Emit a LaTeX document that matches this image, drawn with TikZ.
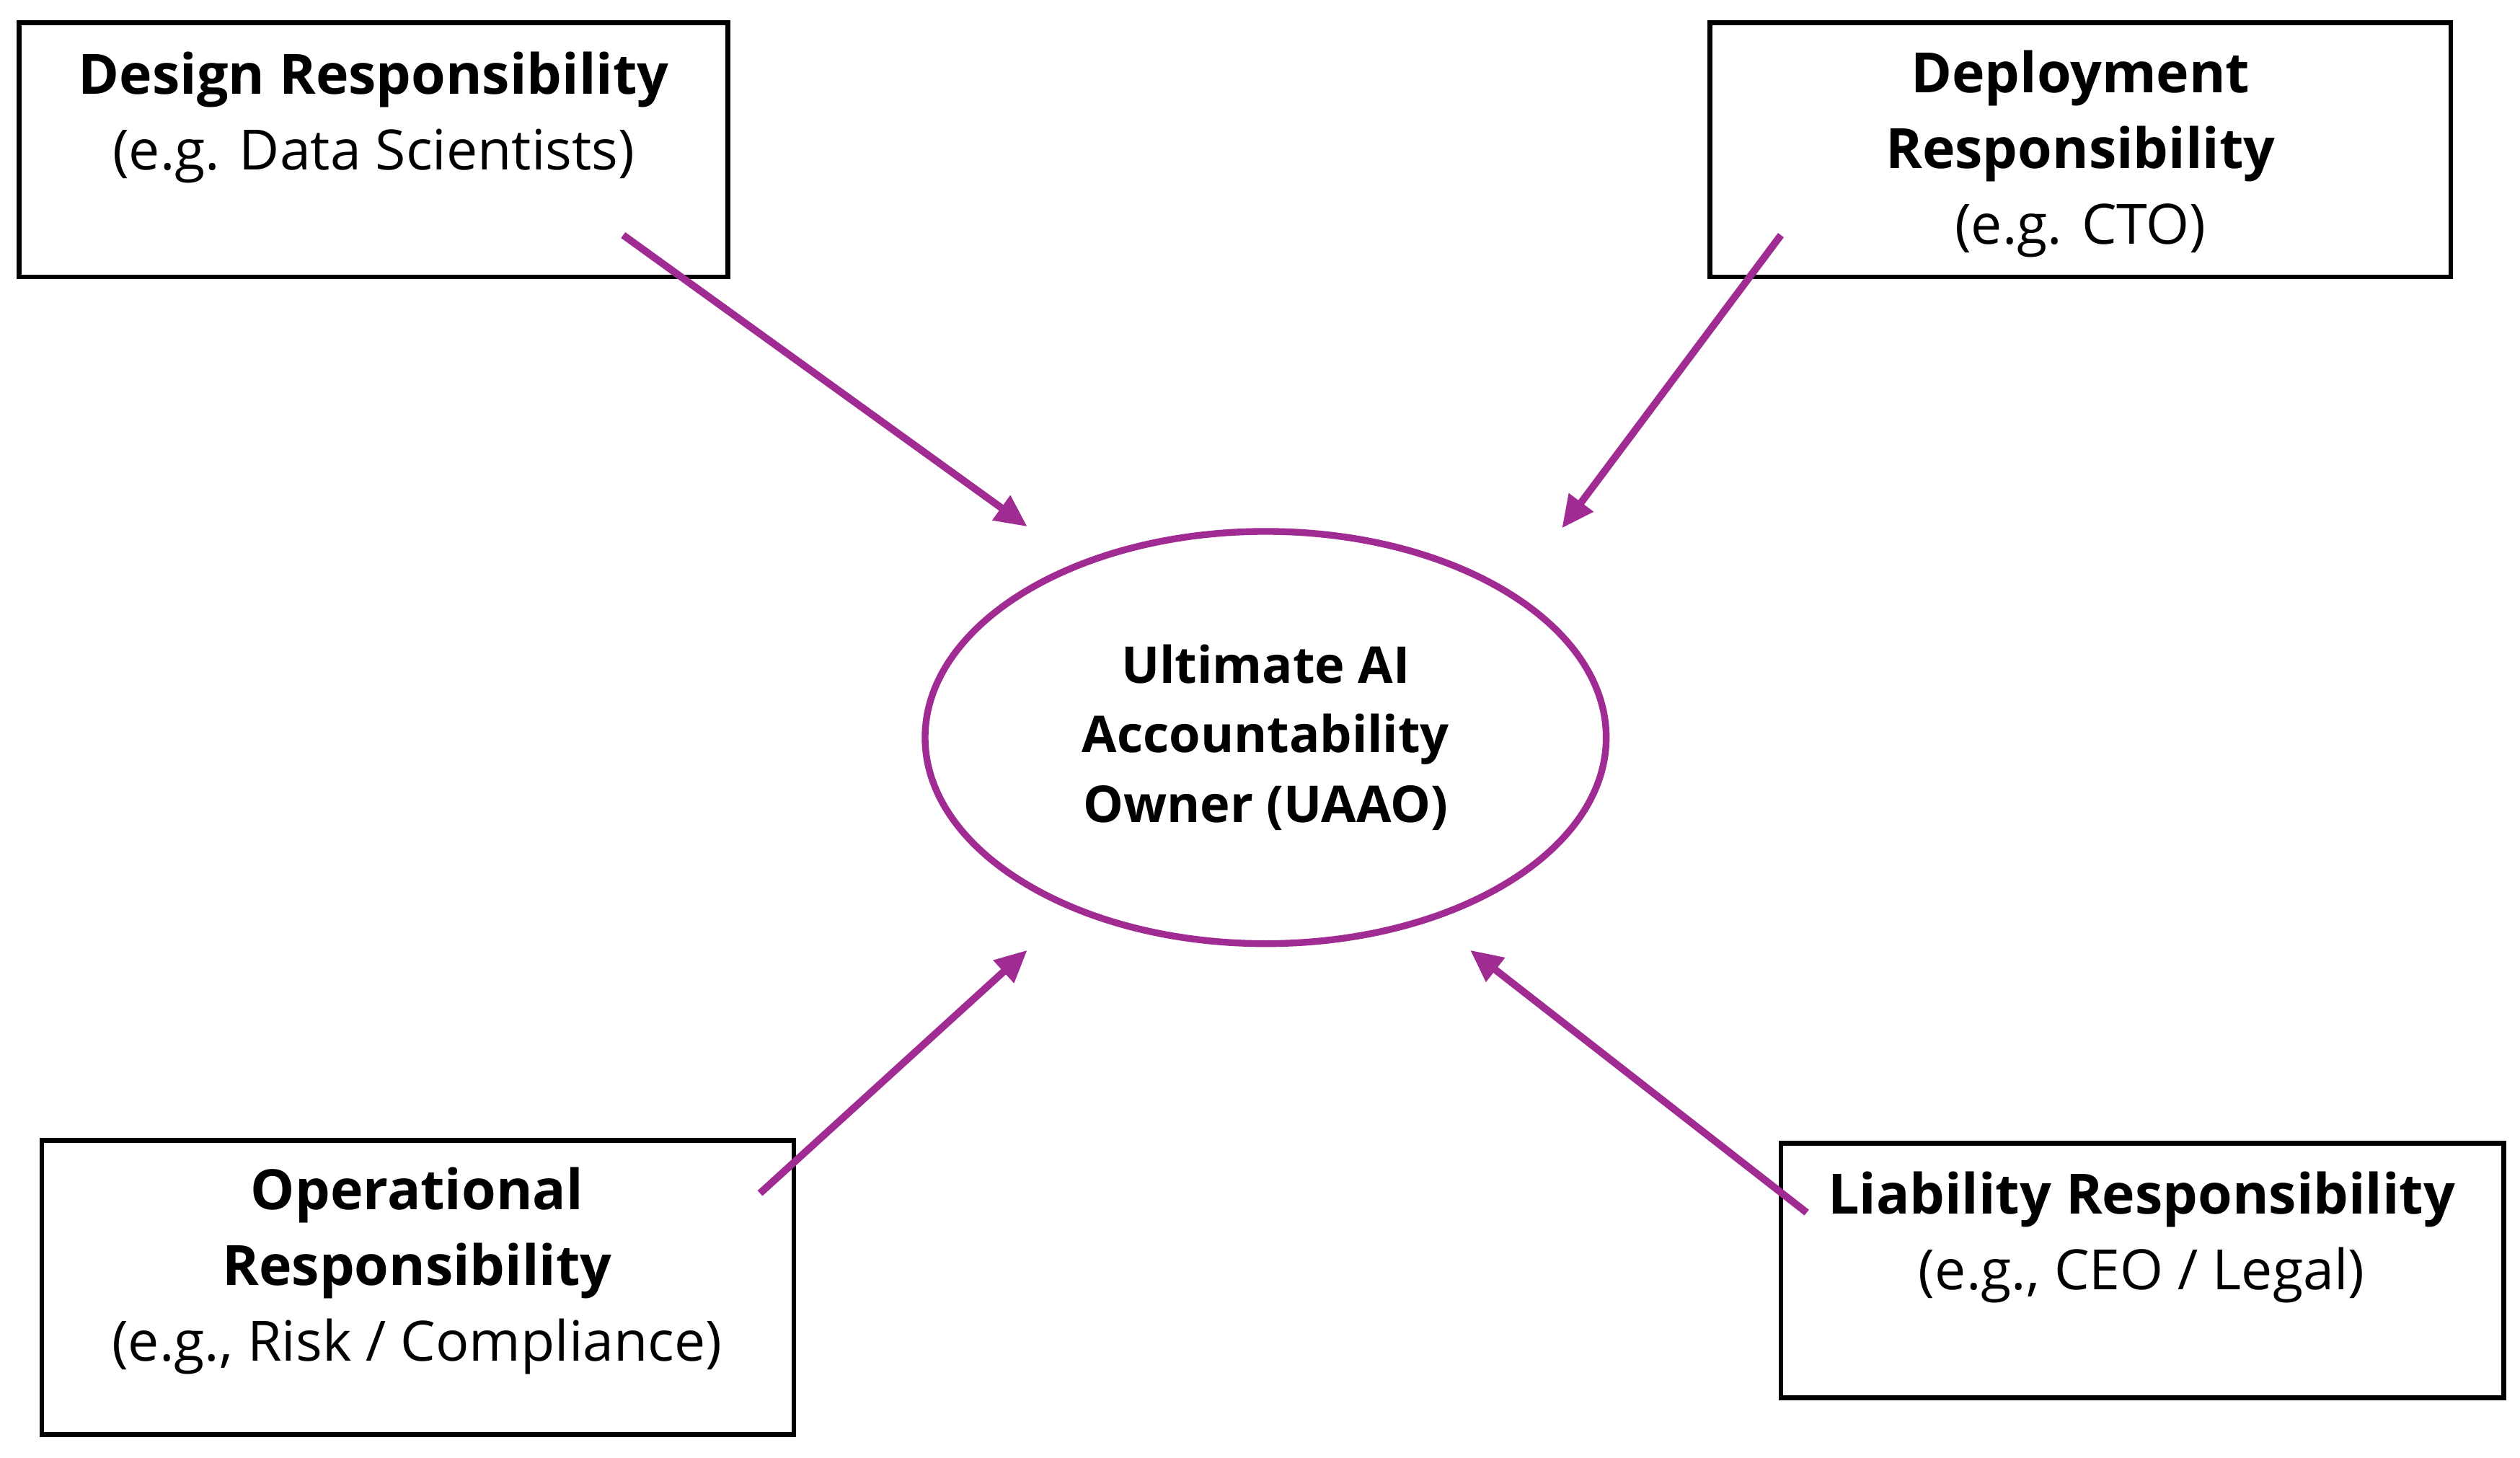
\documentclass[tikz,border=0pt]{standalone}
\usepackage{fontspec}
\setmainfont{Open Sans}
\usetikzlibrary{arrows.meta,shapes.geometric}
\definecolor{uaaopurple}{HTML}{A02B93}
\begin{document}
\begin{tikzpicture}[x=1pt,y=-1pt,
  rolebox/.style={draw=black, line width=3pt, fill=white, inner sep=0pt},
  rolelbl/.style={align=center, inner sep=0pt, font=\fontsize{34.5}{47}\selectfont},
  hub/.style={ellipse, draw=uaaopurple, line width=4.2pt, inner sep=0pt, align=center,
    minimum width=423pt, minimum height=256pt, font=\bfseries\fontsize{31.5}{43}\selectfont},
  feed/.style={draw=uaaopurple, line width=4.5pt, -{Triangle[length=20pt,width=18pt]}}]
\useasboundingbox (0,0) rectangle (1565,905);
\fill[white] (0,0) rectangle (1565,905);

\node[rolebox, minimum width=440pt, minimum height=158pt] (design) at (232,93) {};
\node[rolebox, minimum width=460pt, minimum height=158pt] (deploy) at (1292,93) {};
\node[rolebox, minimum width=467pt, minimum height=183pt] (oper) at (259.5,799.5) {};
\node[rolebox, minimum width=449pt, minimum height=158pt] (liab) at (1330.5,789) {};

\node[rolelbl] (designtxt) at (232,73) {\textbf{Design Responsibility}\\(e.g. Data Scientists)};
\node[rolelbl] (deploytxt) at (1292,95.5) {\textbf{Deployment}\\\textbf{Responsibility}\\(e.g. CTO)};
\node[rolelbl] (opertxt) at (259,789) {\textbf{Operational}\\\textbf{Responsibility}\\(e.g., Risk / Compliance)};
\node[rolelbl] (liabtxt) at (1330,768.5) {\textbf{Liability Responsibility}\\(e.g., CEO / Legal)};

\node[hub] (uaao) at (786,458) {Ultimate AI\\Accountability\\Owner (UAAO)};

\coordinate (d1) at (387,146);
\coordinate (d2) at (638,327);
\coordinate (p1) at (1106,146);
\coordinate (p2) at (970,328);
\coordinate (o1) at (472,741);
\coordinate (o2) at (638,590);
\coordinate (l1) at (1122,753);
\coordinate (l2) at (913,590);

\draw[feed] (d1) -- (d2);
\draw[feed] (p1) -- (p2);
\draw[feed] (o1) -- (o2);
\draw[feed] (l1) -- (l2);
\end{tikzpicture}
\end{document}
